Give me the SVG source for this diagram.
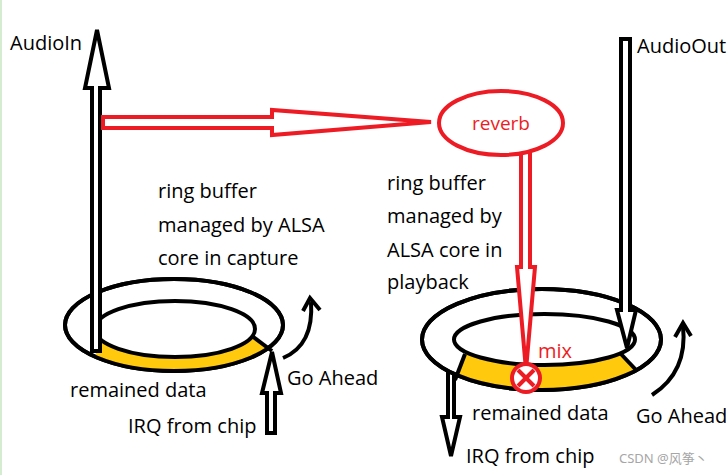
<svg xmlns="http://www.w3.org/2000/svg" width="728" height="475" viewBox="0 0 728 475">
<style>
.t{font-family:"Open Sans","Noto Sans",sans-serif;font-size:20px;fill:#000}
.r{font-family:"Open Sans","Noto Sans",sans-serif;fill:#ed1c24}
.bk{fill:#fff;stroke:#000;stroke-width:4;stroke-linejoin:miter}
.rd{fill:#fff;stroke:#ed1c24;stroke-width:4;stroke-linejoin:miter}
.ln{fill:none;stroke:#000;stroke-width:4}
.yl{fill:#ffc90e;fill-rule:evenodd}
</style>
<defs>
<clipPath id="cl"><polygon points="96,329 239,327 290,364 290,400 96,400"/></clipPath>
<clipPath id="cr"><polygon points="470,340 608,340 660,396 450,396"/></clipPath>
</defs>
<rect x="0" y="0" width="2" height="475" fill="#d5ecd0"/>

<g id="right-irq-arrow">
<polygon class="bk" points="448,366 454,366 454,417 460,417 451,456 442,417 448,417"/>
</g>

<g id="left-ring">
<ellipse class="bk" cx="174" cy="325" rx="109" ry="46"/>
<path class="yl" clip-path="url(#cl)" d="M65,325a109,46 0 1,0 218,0a109,46 0 1,0 -218,0ZM95,329a80,28 0 1,0 160,0a80,28 0 1,0 -160,0Z"/>
<ellipse class="ln" cx="175" cy="329" rx="80" ry="28"/>
<ellipse class="ln" cx="174" cy="325" rx="109" ry="46"/>
<line class="ln" x1="252" y1="336" x2="272" y2="351"/>
</g>

<g id="right-ring">
<ellipse class="bk" cx="541.5" cy="339.5" rx="119.5" ry="50.5"/>
<path class="yl" clip-path="url(#cr)" d="M422,339.5a119.5,50.5 0 1,0 239,0a119.5,50.5 0 1,0 -239,0ZM454,339.5a90.5,25.5 0 1,0 181,0a90.5,25.5 0 1,0 -181,0Z"/>
<ellipse class="ln" cx="544.5" cy="339.5" rx="90.5" ry="25.5"/>
<ellipse class="ln" cx="541.5" cy="339.5" rx="119.5" ry="50.5"/>
<line class="ln" x1="465" y1="354" x2="455" y2="380"/>
<line class="ln" x1="621" y1="354" x2="637" y2="371"/>
</g>

<g id="connectors">
<polygon class="bk" points="92,351 92,88 85,88 97,30 109,88 100,88 100,351"/>
<polygon class="bk" points="272,352 281,393 275,393 275,433 267,433 267,393 262,393"/>
<path class="ln" d="M283,358 Q314,345 311,302"/>
<polyline class="ln" points="303,311 310,298 320,310"/>
<polygon class="bk" points="621,39 630,39 630,310 636,310 627,348 617,310 621,310"/>
<path class="ln" d="M652,395 Q688,372 683,326"/>
<polyline class="ln" points="675,337 683,323 691,336"/>
<polygon class="rd" points="103,117 272,117 272,110 431,122 272,135 272,128 103,128"/>
<polygon class="rd" points="521,150 530,150 530,267 535,267 526,370 517,267 521,267"/>
</g>

<g id="reverb">
<ellipse class="rd" cx="501" cy="123" rx="62" ry="32"/>
<text class="r" x="501" y="130" font-size="19" text-anchor="middle">reverb</text>
</g>

<g id="mix">
<circle class="rd" cx="526" cy="378" r="14"/>
<line x1="518" y1="370" x2="534" y2="386" stroke="#ed1c24" stroke-width="4"/>
<line x1="534" y1="370" x2="518" y2="386" stroke="#ed1c24" stroke-width="4"/>
<text class="r" x="538" y="358" font-size="20">mix</text>
</g>

<g id="labels">
<text class="t" x="10" y="50">AudioIn</text>
<text class="t" x="637" y="53">AudioOut</text>
<text class="t" x="158" y="198">ring buffer</text>
<text class="t" x="158" y="232">managed by ALSA</text>
<text class="t" x="158" y="265">core in capture</text>
<text class="t" x="387" y="190">ring buffer</text>
<text class="t" x="387" y="223">managed by</text>
<text class="t" x="387" y="257">ALSA core in</text>
<text class="t" x="387" y="289">playback</text>
<text class="t" x="70" y="397">remained data</text>
<text class="t" x="128" y="433">IRQ from chip</text>
<text class="t" x="287" y="385">Go Ahead</text>
<text class="t" x="472" y="420">remained data</text>
<text class="t" x="466" y="463">IRQ from chip</text>
<text class="t" x="636" y="423">Go Ahead</text>
<text x="619" y="463" font-family="'Noto Sans','Noto Sans CJK SC',sans-serif" font-size="13" fill="#a6a6a6">CSDN @风筝丶</text>
</g>
</svg>
